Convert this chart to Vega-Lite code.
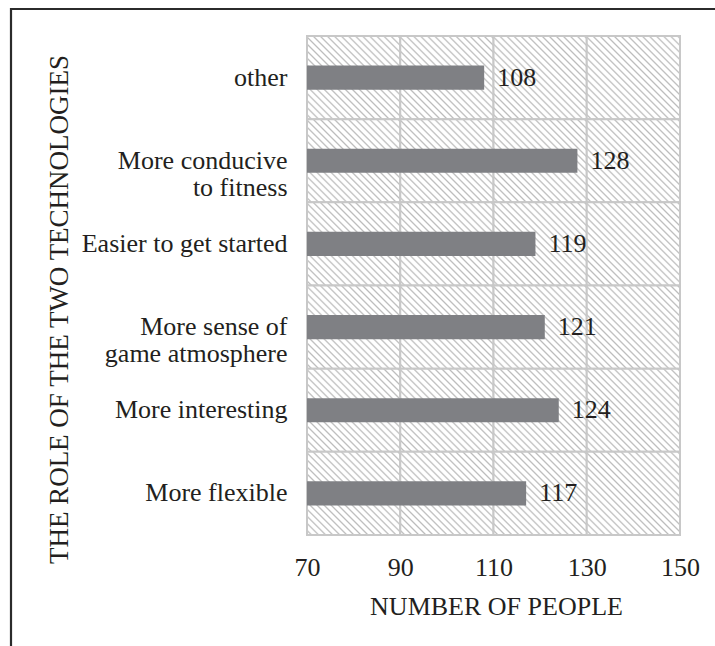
{
  "$schema": "https://vega.github.io/schema/vega-lite/v6.json",
  "width": 704,
  "height": 637,
  "autosize": {"type": "none"},
  "padding": {"left": 11, "top": 9, "right": 0, "bottom": 0},
  "background": "white",
  "data": {
    "values": [
      {"role": "other", "people": 108},
      {"role": "More conducive to fitness", "people": 128},
      {"role": "Easier to get started", "people": 119},
      {"role": "More sense of game atmosphere", "people": 121},
      {"role": "More interesting", "people": 124},
      {"role": "More flexible", "people": 117}
    ]
  },
  "encoding": {
    "y": {
      "field": "role",
      "type": "nominal",
      "sort": null,
      "scale": {"range": [27, 526], "paddingInner": 0, "paddingOuter": 0},
      "axis": {
        "orient": "left",
        "offset": -296,
        "title": "THE ROLE OF THE TWO TECHNOLOGIES",
        "domain": false,
        "ticks": false,
        "tickSize": 0,
        "grid": false,
        "labelPadding": 20,
        "labelFont": "Liberation Serif",
        "labelFontSize": 26,
        "labelColor": "#231f20",
        "labelLimit": 400,
        "labelLineHeight": 27,
        "labelExpr": "datum.value == 'More conducive to fitness' ? ['More conducive', 'to fitness'] : datum.value == 'More sense of game atmosphere' ? ['More sense of', 'game atmosphere'] : datum.label",
        "titleFont": "Liberation Serif",
        "titleFontSize": 27,
        "titleFontWeight": "normal",
        "titleColor": "#231f20",
        "titleAngle": 270,
        "titleAlign": "center",
        "titleBaseline": "alphabetic",
        "titleX": -240,
        "titleY": 300
      }
    }
  },
  "layer": [
    {
      "mark": {"type": "rect", "stroke": "#c8c8c8", "strokeWidth": 2},
      "encoding": {
        "x": {
          "datum": 70,
          "type": "quantitative",
          "scale": {"domain": [70, 150], "range": [296, 669], "nice": false, "zero": false},
          "axis": {
            "orient": "bottom",
            "offset": -111,
            "title": "NUMBER OF PEOPLE",
            "values": [70, 90, 110, 130, 150],
            "domain": false,
            "ticks": false,
            "tickSize": 0,
            "grid": false,
            "labelPadding": 40,
            "labelBaseline": "alphabetic",
            "labelFont": "Liberation Serif",
            "labelFontSize": 26,
            "labelColor": "#231f20",
            "labelFlush": false,
            "labelOverlap": false,
            "titleFont": "Liberation Serif",
            "titleFontSize": 26,
            "titleFontWeight": "normal",
            "titleColor": "#231f20",
            "titleBaseline": "alphabetic",
            "titleX": 485,
            "titleY": 79
          }
        },
        "x2": {"datum": 90}
      }
    },
    {
      "mark": {"type": "rect", "stroke": "#c8c8c8", "strokeWidth": 2},
      "encoding": {"x": {"datum": 90, "type": "quantitative"}, "x2": {"datum": 110}}
    },
    {
      "mark": {"type": "rect", "stroke": "#c8c8c8", "strokeWidth": 2},
      "encoding": {"x": {"datum": 110, "type": "quantitative"}, "x2": {"datum": 130}}
    },
    {
      "mark": {"type": "rect", "stroke": "#c8c8c8", "strokeWidth": 2},
      "encoding": {"x": {"datum": 130, "type": "quantitative"}, "x2": {"datum": 150}}
    },
    {
      "mark": {"type": "bar", "color": "#7f8084", "height": {"band": 0.29}},
      "encoding": {
        "x": {"field": "people", "type": "quantitative"},
        "x2": {"datum": 70}
      }
    },
    {
      "mark": {
        "type": "text",
        "align": "left",
        "baseline": "middle",
        "dx": 13,
        "font": "Liberation Serif",
        "fontSize": 26,
        "color": "#231f20"
      },
      "encoding": {
        "x": {"field": "people", "type": "quantitative"},
        "text": {"field": "people", "type": "quantitative"}
      }
    }
  ],
  "config": {
    "font": "Liberation Serif",
    "view": {"stroke": "#2b2b2b", "strokeWidth": 2.2, "strokeDash": [704, 1341, 637], "fill": null},
    "rect": {
      "fill": {
        "gradient": "linear",
        "x1": 0, "y1": 1, "x2": 1.0537, "y2": 0.0602,
        "stops": [
          {"offset": 0, "color": "#ffffff"},
          {"offset": 0.016, "color": "#ffffff"}, {"offset": 0.026, "color": "#bcbcbc"}, {"offset": 0.036, "color": "#ffffff"},
          {"offset": 0.056, "color": "#ffffff"}, {"offset": 0.066, "color": "#bcbcbc"}, {"offset": 0.076, "color": "#ffffff"},
          {"offset": 0.096, "color": "#ffffff"}, {"offset": 0.106, "color": "#bcbcbc"}, {"offset": 0.116, "color": "#ffffff"},
          {"offset": 0.136, "color": "#ffffff"}, {"offset": 0.146, "color": "#bcbcbc"}, {"offset": 0.156, "color": "#ffffff"},
          {"offset": 0.176, "color": "#ffffff"}, {"offset": 0.186, "color": "#bcbcbc"}, {"offset": 0.196, "color": "#ffffff"},
          {"offset": 0.216, "color": "#ffffff"}, {"offset": 0.226, "color": "#bcbcbc"}, {"offset": 0.236, "color": "#ffffff"},
          {"offset": 0.256, "color": "#ffffff"}, {"offset": 0.266, "color": "#bcbcbc"}, {"offset": 0.276, "color": "#ffffff"},
          {"offset": 0.296, "color": "#ffffff"}, {"offset": 0.306, "color": "#bcbcbc"}, {"offset": 0.316, "color": "#ffffff"},
          {"offset": 0.336, "color": "#ffffff"}, {"offset": 0.346, "color": "#bcbcbc"}, {"offset": 0.356, "color": "#ffffff"},
          {"offset": 0.376, "color": "#ffffff"}, {"offset": 0.386, "color": "#bcbcbc"}, {"offset": 0.396, "color": "#ffffff"},
          {"offset": 0.416, "color": "#ffffff"}, {"offset": 0.426, "color": "#bcbcbc"}, {"offset": 0.436, "color": "#ffffff"},
          {"offset": 0.456, "color": "#ffffff"}, {"offset": 0.466, "color": "#bcbcbc"}, {"offset": 0.476, "color": "#ffffff"},
          {"offset": 0.496, "color": "#ffffff"}, {"offset": 0.506, "color": "#bcbcbc"}, {"offset": 0.516, "color": "#ffffff"},
          {"offset": 0.536, "color": "#ffffff"}, {"offset": 0.546, "color": "#bcbcbc"}, {"offset": 0.556, "color": "#ffffff"},
          {"offset": 0.576, "color": "#ffffff"}, {"offset": 0.586, "color": "#bcbcbc"}, {"offset": 0.596, "color": "#ffffff"},
          {"offset": 0.616, "color": "#ffffff"}, {"offset": 0.626, "color": "#bcbcbc"}, {"offset": 0.636, "color": "#ffffff"},
          {"offset": 0.656, "color": "#ffffff"}, {"offset": 0.666, "color": "#bcbcbc"}, {"offset": 0.676, "color": "#ffffff"},
          {"offset": 0.696, "color": "#ffffff"}, {"offset": 0.706, "color": "#bcbcbc"}, {"offset": 0.716, "color": "#ffffff"},
          {"offset": 0.736, "color": "#ffffff"}, {"offset": 0.746, "color": "#bcbcbc"}, {"offset": 0.756, "color": "#ffffff"},
          {"offset": 0.776, "color": "#ffffff"}, {"offset": 0.786, "color": "#bcbcbc"}, {"offset": 0.796, "color": "#ffffff"},
          {"offset": 0.816, "color": "#ffffff"}, {"offset": 0.826, "color": "#bcbcbc"}, {"offset": 0.836, "color": "#ffffff"},
          {"offset": 0.856, "color": "#ffffff"}, {"offset": 0.866, "color": "#bcbcbc"}, {"offset": 0.876, "color": "#ffffff"},
          {"offset": 0.896, "color": "#ffffff"}, {"offset": 0.906, "color": "#bcbcbc"}, {"offset": 0.916, "color": "#ffffff"},
          {"offset": 0.936, "color": "#ffffff"}, {"offset": 0.946, "color": "#bcbcbc"}, {"offset": 0.956, "color": "#ffffff"},
          {"offset": 0.976, "color": "#ffffff"}, {"offset": 0.986, "color": "#bcbcbc"}, {"offset": 0.996, "color": "#ffffff"},
          {"offset": 1, "color": "#ffffff"}
        ]
      }
    }
  }
}
